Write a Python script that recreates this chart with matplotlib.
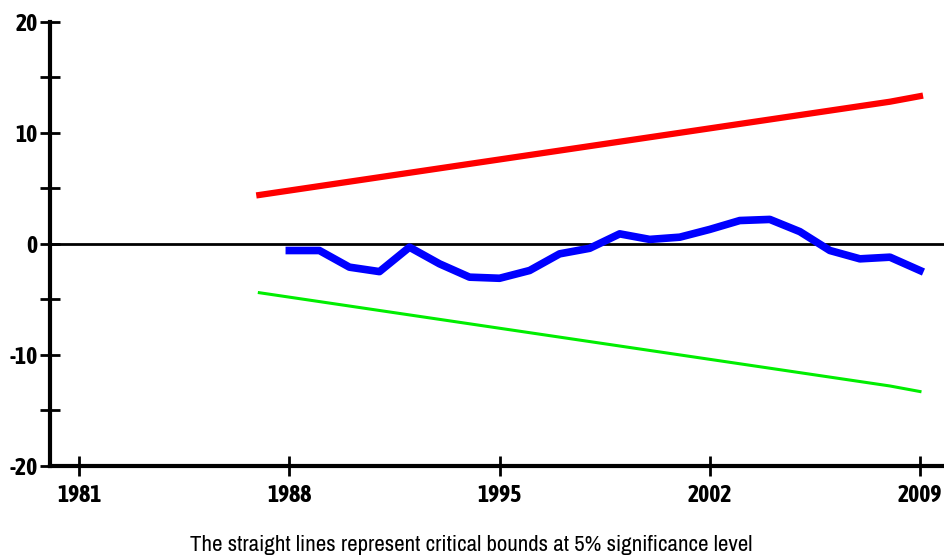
import matplotlib.pyplot as plt
from matplotlib import font_manager

fonts = font_manager.fontManager.ttflist
narrow = sorted({f.name for f in fonts if 'Narrow' in f.name or 'Condensed' in f.name})
narrow_bold = sorted({f.name for f in fonts
                      if ('Narrow' in f.name or 'Condensed' in f.name)
                      and (f.weight in ('bold', 700, 600, 'semibold', 800) or
                           (isinstance(f.weight, int) and f.weight >= 600))})
fam = narrow[0] if narrow else 'Liberation Sans'
fam_bold = narrow_bold[0] if narrow_bold else fam
plt.rcParams['font.family'] = [fam, 'DejaVu Sans']
plt.rcParams['axes.unicode_minus'] = False

# CUSUM statistic
years = list(range(1988, 2010))
cusum = [-0.6, -0.6, -2.1, -2.5, -0.3, -1.8, -3.0, -3.1, -2.4, -0.9, -0.4,
         0.9, 0.4, 0.6, 1.3, 2.1, 2.2, 1.1, -0.6, -1.35, -1.2, -2.4]

# 5% critical bounds
bound_years = list(range(1987, 2010))
upper = [4.4, 4.8, 5.2, 5.6, 6.0, 6.4, 6.8, 7.2, 7.6, 8.0, 8.4, 8.8,
         9.2, 9.6, 10.0, 10.4, 10.8, 11.2, 11.6, 12.0, 12.4, 12.8, 13.3]
lower = [-v for v in upper]

xticks = [1981, 1988, 1995, 2002, 2009]

fig = plt.figure(figsize=(9.44, 5.58), dpi=100)
ax = fig.add_axes([0.053, 0.165, 0.947, 0.796])

ax.axhline(0, color='black', lw=2, zorder=1)
ax.plot(bound_years, upper, color='#ff0000', lw=4.5, zorder=2)
ax.plot(bound_years, lower, color='#00ee00', lw=2.2, zorder=2)
ax.plot(years, cusum, color='#0000ff', lw=5.5, zorder=3)

ax.set_xlim(1980.03, 2009.8)
ax.set_ylim(-20, 20)
ax.set_xticks(xticks)
ax.set_yticks([-20, -10, 0, 10, 20])
ax.set_yticks([-15, -5, 5, 15], minor=True)

for s in ['top', 'right']:
    ax.spines[s].set_visible(False)
for s in ['left', 'bottom']:
    ax.spines[s].set_linewidth(3)

ax.tick_params(axis='both', which='both', direction='inout', width=2, colors='black')
ax.tick_params(axis='both', which='major', length=14, labelsize=17)
ax.tick_params(axis='y', which='minor', length=14)
ax.tick_params(axis='x', pad=6)
ax.tick_params(axis='y', pad=2)
for lab in ax.get_xticklabels() + ax.get_yticklabels():
    lab.set_family([fam_bold, 'DejaVu Sans'])
    lab.set_fontweight('bold')

fig.text(0.499, 0.006, 'The straight lines represent critical bounds at 5% significance level',
         ha='center', va='bottom', fontsize=16.5)

fig.savefig('out.png', dpi=100)
